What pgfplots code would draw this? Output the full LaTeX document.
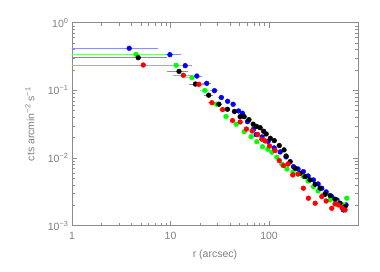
\documentclass[border=0pt]{standalone}
\usepackage{pgfplots}
\pgfplotsset{compat=1.18}
\usepackage{fontspec}
\setmainfont{Liberation Sans}
\definecolor{axgray}{gray}{0.55}
\definecolor{txtgray}{gray}{0.5}
\definecolor{pblue}{RGB}{0,0,255}
\definecolor{pgreen}{RGB}{0,255,0}
\definecolor{pred}{RGB}{255,0,0}
\begin{document}
\begin{tikzpicture}
\useasboundingbox (-72pt,-45.3pt) rectangle (308pt,225.7pt);
\begin{axis}[
  scale only axis,
  width=286pt, height=203pt,
  xmode=log, ymode=log,
  xmin=1, xmax=800, ymin=1e-3, ymax=1,
  axis line style={axgray, line width=0.6pt},
  every tick/.style={axgray, line width=0.5pt},
  major tick length=5pt, minor tick length=3pt,
  tick align=inside,
  xtick={1,10,100}, xticklabels={1,10,100},
  ytick={1e-3,1e-2,1e-1,1},
  yticklabels={10\textsuperscript{−3},10\textsuperscript{−2},10\textsuperscript{−1},10\textsuperscript{0}},
  tick label style={font=\fontsize{10.5}{12}\selectfont, text=txtgray},
  xticklabel style={yshift=-3pt},
  xlabel={r (arcsec)},
  ylabel={cts arcmin\textsuperscript{−2} s\textsuperscript{−1}},
  label style={font=\fontsize{10.5}{12}\selectfont, text=txtgray},
  xlabel style={at={(axis description cs:0.5,0)}, anchor=north, yshift=-21pt},
  ylabel style={at={(axis description cs:0,0.5)}, anchor=south, yshift=34pt},
  clip=true,
]
% blue
\addplot[only marks, mark=*, mark size=2.4pt, draw=none, fill=pblue, mark options={draw=pblue, fill=pblue},
  error bars/.cd, x dir=both, x explicit, error bar style={pblue!45, line width=0.5pt}, error mark=none]
  table[x=x, y=y, x error=e] {
x y e
3.81 0.419 3.7
9.86 0.337 3.0
14.1 0.232 2.5
18.5 0.163 2.5
23.3 0.127 2.5
27.9 0.099 2.5
32.8 0.0785 2.5
38.0 0.069 2.5
43.2 0.0623 2.5
49.0 0.0497 2.5
53.7 0.0459 2.5
60.4 0.0345 2.5
69.5 0.0266 2.5
74.0 0.0222 2.5
85.1 0.0205 2.5
98.0 0.0176 2.5
112.7 0.0141 3
129.7 0.0123 3
149 0.0104 4
177 0.00746 4
197 0.0069 5
223 0.0063 5
249 0.00544 6
282 0.00475 6
315 0.00414 7
343 0.00358 7
380 0.00316 8
433 0.00269 8
490 0.0024 9
568 0.00171 9
605 0.00203 9
};
% green
\addplot[only marks, mark=*, mark size=2.4pt, draw=none, mark options={draw=pgreen, fill=pgreen},
  error bars/.cd, x dir=both, x explicit, error bar style={pgreen!55, line width=0.5pt}, error mark=none]
  table[x=x, y=y, x error=e] {
x y e
4.46 0.341 4.4
11.4 0.235 3.0
16.5 0.154 2.5
22.3 0.0997 2.5
29.3 0.0625 2.5
36.6 0.0411 2.5
46.4 0.0316 2.5
55.9 0.0245 2.5
65.8 0.0207 2.5
75.2 0.0175 2.5
85.8 0.0147 2.5
97.2 0.0135 2.5
107 0.0122 3
120 0.0103 3
135 0.0081 3
152 0.0069 4
175 0.00623 4
197 0.00582 5
223 0.00531 5
249 0.00459 6
282 0.00378 6
315 0.00327 7
356 0.00285 7
417 0.0024 8
480 0.00225 8
568 0.00203 9
615 0.00255 9
};
% black
\addplot[only marks, mark=*, mark size=2.4pt, draw=none, mark options={draw=black, fill=black},
  error bars/.cd, x dir=both, x explicit, error bar style={black!45, line width=0.5pt}, error mark=none]
  table[x=x, y=y, x error=e] {
x y e
4.70 0.304 4.6
12.2 0.191 3.0
17.9 0.124 2.5
24.4 0.0849 2.5
31.0 0.0625 2.5
37.8 0.0526 2.5
44.5 0.0488 2.5
50.9 0.0409 2.5
55.9 0.0409 2.5
62.5 0.0369 2.5
69.0 0.0316 2.5
74.8 0.0293 2.5
81.2 0.0281 2.5
88.2 0.0249 2.5
93.5 0.0227 2.5
103 0.0196 3
113 0.0181 3
127 0.0153 3
142 0.0132 3
149 0.0107 4
164 0.00885 4
184 0.00707 4
207 0.00596 5
232 0.00531 5
261 0.00475 6
294 0.0041 6
330 0.00358 7
371 0.00292 7
417 0.00279 8
468 0.00246 8
526 0.00215 9
591 0.00191 9
};
% red
\addplot[only marks, mark=*, mark size=2.4pt, draw=none, mark options={draw=pred, fill=pred},
  error bars/.cd, x dir=both, x explicit, error bar style={pred!45, line width=0.5pt}, error mark=none]
  table[x=x, y=y, x error=e] {
x y e
5.29 0.237 5.2
13.5 0.167 3.0
19.4 0.123 2.5
26.3 0.0658 2.5
33.8 0.052 2.5
42.6 0.0359 2.5
50.9 0.0341 2.5
58.9 0.0269 2.5
67.4 0.0251 2.5
76.6 0.0223 2.5
84.5 0.019 2.5
91.2 0.0179 2.5
101 0.0151 3
115 0.0129 3
127 0.00916 3
140 0.00773 3
156 0.00818 4
174 0.00563 4
197 0.00582 5
223 0.00358 5
251 0.00255 6
294 0.00215 6
343 0.00269 7
380 0.00232 7
433 0.00181 8
468 0.0021 8
506 0.00203 9
551 0.00183 9
591 0.00171 9
};
\end{axis}
\end{tikzpicture}
\end{document}
